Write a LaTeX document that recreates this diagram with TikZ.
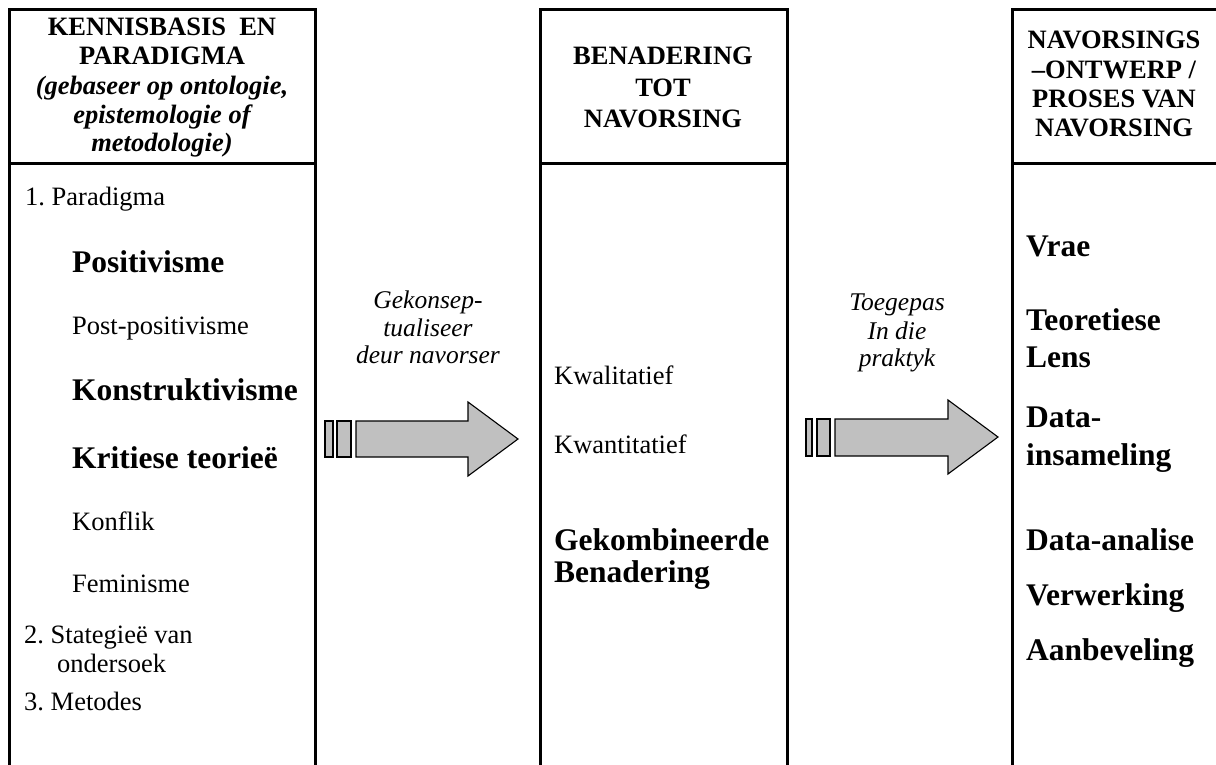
\documentclass[tikz,border=0pt]{standalone}
\usepackage{fontspec}
\setmainfont{Liberation Serif}
\frenchspacing
\definecolor{arrowgray}{RGB}{192,192,192}
\begin{document}
\begin{tikzpicture}[x=1pt,y=-1pt,
  frame/.style={line width=3pt},
  arrowbody/.style={fill=arrowgray, draw=black, line width=1.1pt, line join=miter},
  hd/.style={font=\fontsize{26.5}{29}\selectfont\bfseries, anchor=base, inner sep=0pt},
  hdit/.style={font=\fontsize{26.5}{29}\selectfont\bfseries\itshape, anchor=base, inner sep=0pt},
  txt/.style={font=\fontsize{26.5}{29}\selectfont, anchor=base west, inner sep=0pt},
  big/.style={font=\fontsize{31.5}{36}\selectfont\bfseries, anchor=base west, inner sep=0pt},
  lbl/.style={font=\fontsize{25.5}{28}\selectfont\itshape, anchor=base, inner sep=0pt},
]
\clip (0,0) rectangle (1216,765);
\fill[white] (0,0) rectangle (1216,765);

% three column frames, each with a header row
\draw[frame] (9.5,10) rectangle (315,800);
\draw[frame] (9.5,163.5) -- (315,163.5);
\draw[frame] (540,10) rectangle (787,800);
\draw[frame] (540,163.5) -- (787,163.5);
\draw[frame] (1012,10) rectangle (1226,800);
\draw[frame] (1012,163.5) -- (1226,163.5);

% column headers
\node[hd]   (h1a) at (162,36)    {KENNISBASIS\ \ EN};
\node[hd]   (h1b) at (162,65)    {PARADIGMA};
\node[hdit] (h1c) at (162,94.5)  {(gebaseer op ontologie,};
\node[hdit] (h1d) at (162,123.5) {epistemologie of};
\node[hdit] (h1e) at (162,152)   {metodologie)};

\node[hd] (h2a) at (663,65)    {BENADERING};
\node[hd] (h2b) at (663,96.5)  {TOT};
\node[hd] (h2c) at (663,127.5) {NAVORSING};

\node[hd] (h3a) at (1114,48.3)  {NAVORSINGS};
\node[hd] (h3b) at (1114,78.3)  {–ONTWERP /};
\node[hd] (h3c) at (1114,107.3) {PROSES VAN};
\node[hd] (h3d) at (1114,136.7) {NAVORSING};

% left column body
\node[txt] (p1)  at (25,205)  {1. Paradigma};
\node[big] (p1a) at (72,272)  {Positivisme};
\node[txt] (p1b) at (72,334)  {Post-positivisme};
\node[big] (p1c) at (72,400)  {Konstruktivisme};
\node[big] (p1d) at (72,468)  {Kritiese teorieë};
\node[txt] (p1e) at (72,530)  {Konflik};
\node[txt] (p1f) at (72,592)  {Feminisme};
\node[txt] (p2)  at (24,643)  {2. Stategieë van};
\node[txt] (p2b) at (57,672)  {ondersoek};
\node[txt] (p3)  at (24,710)  {3. Metodes};

% middle column body
\node[txt] (m1)  at (554,384) {Kwalitatief};
\node[txt] (m2)  at (554,453) {Kwantitatief};
\node[big] (m3a) at (554,550) {Gekombineerde};
\node[big] (m3b) at (554,582) {Benadering};

% right column body
\node[big] (r1)  at (1026,256) {Vrae};
\node[big] (r2a) at (1026,330) {Teoretiese};
\node[big] (r2b) at (1026,367) {Lens};
\node[big] (r3a) at (1026,427) {Data-};
\node[big] (r3b) at (1026,465) {insameling};
\node[big] (r4)  at (1026,550) {Data-analise};
\node[big] (r5)  at (1026,605) {Verwerking};
\node[big] (r6)  at (1026,660) {Aanbeveling};

% striped block arrow between first and second column
\draw[arrowbody] (325,421) rectangle (333,457);
\draw[arrowbody] (337,421) rectangle (351,457);
\draw[arrowbody] (356,421) -- (468,421) -- (468,402) -- (518,439)
  -- (468,476) -- (468,457) -- (356,457) -- cycle;
\node[lbl] (a1a) at (428,308) {Gekonsep-};
\node[lbl] (a1b) at (428,336) {tualiseer};
\node[lbl] (a1c) at (428,363) {deur navorser};

% striped block arrow between second and third column
\draw[arrowbody] (806,419) rectangle (812,456);
\draw[arrowbody] (817,419) rectangle (830,456);
\draw[arrowbody] (835,419) -- (948,419) -- (948,400) -- (998,437)
  -- (948,474) -- (948,456) -- (835,456) -- cycle;
\node[lbl] (a2a) at (897,310) {Toegepas};
\node[lbl] (a2b) at (897,339) {In die};
\node[lbl] (a2c) at (897,366) {praktyk};
\end{tikzpicture}
\end{document}
